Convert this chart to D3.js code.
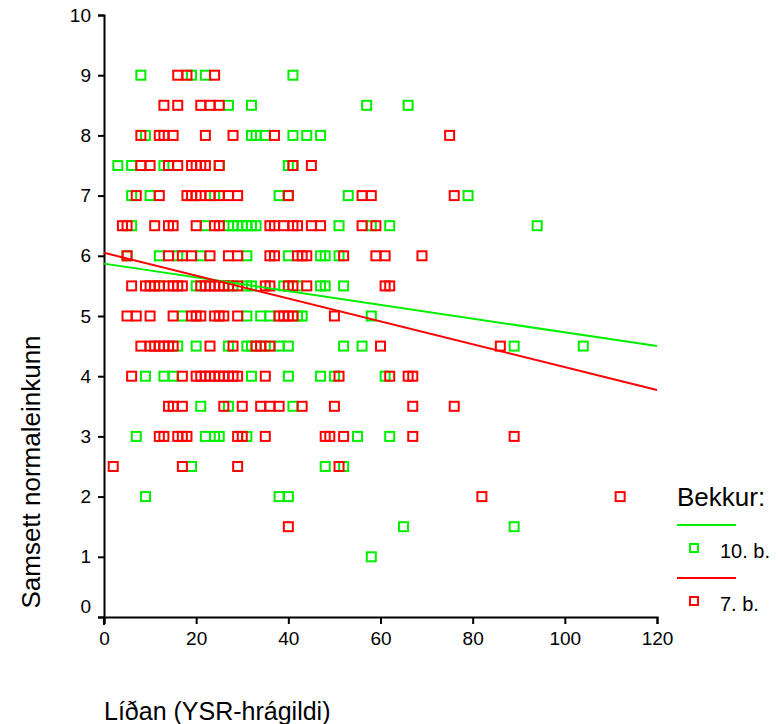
<!DOCTYPE html>
<html>
<head>
<meta charset="utf-8">
<script src="https://cdn.jsdelivr.net/npm/d3@7"></script>
<style>
  body { margin: 0; background: #fff; }
  text { font-family: "Liberation Sans", Arial, sans-serif; fill: #000; }
</style>
</head>
<body>
<svg width="778" height="724"></svg>
<script>
var levels = [9, 8.5, 8, 7.5, 7, 6.5, 6, 5.5, 5, 4.5, 4, 3.5, 3, 2.5, 2, 1.5, 1];

var grade10X = [
  [8, 19, 22, 41],
  [27, 32, 57, 66],
  [9, 32, 33, 35, 41, 44, 47],
  [3, 6, 13, 25, 40, 41],
  [6, 10, 24, 38, 40, 53, 79],
  [6, 22, 27, 28, 29, 30, 31, 32, 33, 51, 58, 62, 94],
  [5, 12, 16, 21, 31, 40, 47, 48, 51],
  [12, 20, 28, 31, 32, 39, 42, 47, 48, 52],
  [17, 31, 34, 36, 42, 43, 58],
  [16, 20, 27, 31, 32, 35, 38, 40, 52, 56, 89, 104],
  [9, 13, 15, 32, 40, 47, 50, 61],
  [21, 27, 41],
  [7, 22, 24, 25, 31, 55, 62],
  [19, 48, 52],
  [9, 38, 40],
  [65, 89],
  [58]
];

var grade7X = [
  [16, 18, 24],
  [13, 16, 21, 23, 25],
  [8, 12, 13, 15, 22, 28, 37, 75],
  [8, 10, 14, 16, 19, 20, 21, 22, 25, 41, 45],
  [7, 12, 18, 19, 20, 21, 23, 25, 27, 29, 40, 56, 58, 76],
  [4, 5, 11, 14, 15, 20, 24, 25, 36, 37, 39, 41, 42, 45, 47, 56, 59],
  [5, 14, 17, 19, 23, 27, 29, 36, 37, 42, 43, 44, 52, 59, 61, 69],
  [6, 9, 10, 11, 12, 14, 15, 16, 17, 21, 22, 23, 24, 25, 26, 27, 29, 35, 36, 40, 41, 44, 61, 62],
  [5, 7, 10, 15, 19, 20, 21, 24, 25, 26, 29, 38, 39, 40, 41, 50],
  [8, 10, 11, 12, 13, 14, 15, 23, 28, 33, 34, 36, 60, 86],
  [6, 17, 20, 21, 22, 23, 24, 25, 26, 27, 28, 29, 35, 51, 62, 66, 67],
  [14, 15, 17, 26, 30, 34, 36, 38, 43, 50, 67, 76],
  [12, 13, 16, 17, 18, 29, 30, 35, 48, 49, 52, 67, 89],
  [2, 17, 29, 51],
  [82, 112],
  [40],
  []
];

// fit lines: [value at x=0, value at x=120]
var grade10Fit = [5.87, 4.5];
var grade7Fit = [6.05, 3.77];

var xTicks = [0, 20, 40, 60, 80, 100, 120];
var yTicks = [0, 1, 2, 3, 4, 5, 6, 7, 8, 9, 10];

var groups = [
  {name: "10. b.", rows: grade10X, fit: grade10Fit, color: "#00ee00"},
  {name: "7. b.", rows: grade7X, fit: grade7Fit, color: "#ff0000"}
];

var svg = d3.select("svg");

var x = d3.scaleLinear().domain([0, 120]).range([104, 657]);
var y = d3.scaleLinear().domain([0, 10]).range([617, 15]);

// axes
var xAxis = svg.append("g")
  .attr("transform", "translate(0,617)")
  .call(d3.axisBottom(x).tickValues(xTicks).tickSize(7).tickPadding(8));
var yAxis = svg.append("g")
  .attr("transform", "translate(104,0)")
  .call(d3.axisLeft(y).tickValues(yTicks).tickSize(6).tickPadding(7));

[xAxis, yAxis].forEach(function(a) {
  a.attr("font-size", null).attr("font-family", null);
  a.select(".domain").attr("stroke", "#000").attr("stroke-width", 2);
  a.selectAll(".tick line").attr("stroke", "#000").attr("stroke-width", 2);
  a.selectAll("text").style("font-size", "19px").attr("fill", "#000");
});
// "0" label on y sits a bit above its tick
yAxis.selectAll(".tick").filter(function(d) { return d === 0; })
  .select("text").attr("dy", "-0.25em");

svg.append("line")
  .attr("x1", 104).attr("x2", 104).attr("y1", 617).attr("y2", 625)
  .attr("stroke", "#000").attr("stroke-width", 2);

// points
groups.forEach(function(g) {
  var pts = [];
  g.rows.forEach(function(row, i) {
    row.forEach(function(v) { pts.push([v, levels[i]]); });
  });
  svg.append("g").selectAll("rect")
    .data(pts)
    .enter()
    .append("rect")
    .attr("x", function(d) { return x(d[0]) - 4.5; })
    .attr("y", function(d) { return y(d[1]) - 4.5; })
    .attr("width", 9)
    .attr("height", 9)
    .attr("fill", "none")
    .attr("stroke", g.color)
    .attr("stroke-width", 2);
});

// fit lines
groups.forEach(function(g) {
  svg.append("line")
    .attr("x1", x(0)).attr("y1", y(g.fit[0]))
    .attr("x2", x(120)).attr("y2", y(g.fit[1]))
    .attr("stroke", g.color)
    .attr("stroke-width", 2);
});

// axis titles
svg.append("text")
  .attr("x", 104).attr("y", 720)
  .style("font-size", "25px")
  .text("Líðan (YSR-hrágildi)");

svg.append("text")
  .attr("transform", "translate(40,472) rotate(-90)")
  .attr("text-anchor", "middle")
  .style("font-size", "26px")
  .text("Samsett normaleinkunn");

// legend
var leg = svg.append("g");
leg.append("text").attr("x", 677).attr("y", 506)
  .style("font-size", "26px").text("Bekkur:");

groups.forEach(function(g, i) {
  var top = 525 + i * 53;
  leg.append("line")
    .attr("x1", 677).attr("x2", 736).attr("y1", top).attr("y2", top)
    .attr("stroke", g.color).attr("stroke-width", 2);
  leg.append("rect")
    .attr("x", 690).attr("y", top + 19).attr("width", 8).attr("height", 8)
    .attr("fill", "none").attr("stroke", g.color).attr("stroke-width", 2);
  leg.append("text").attr("x", 720).attr("y", top + 33)
    .style("font-size", "20px").text(g.name);
});
</script>
</body>
</html>
